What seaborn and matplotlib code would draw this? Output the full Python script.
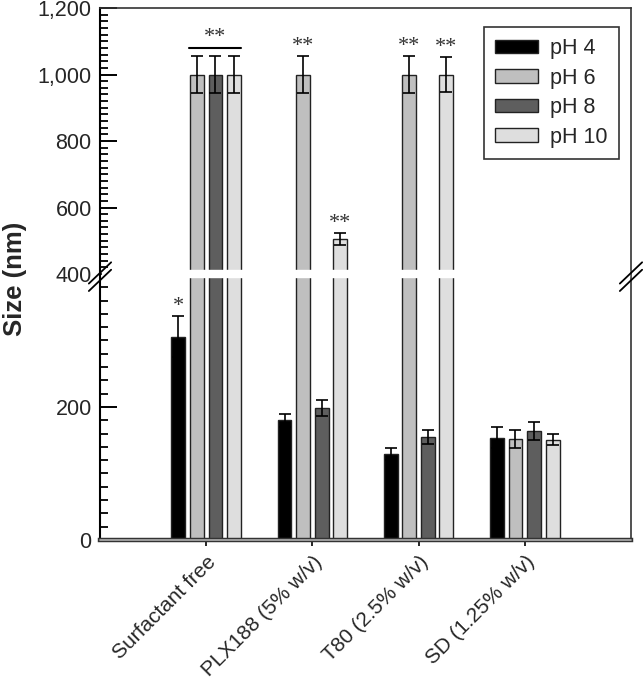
import numpy as np
import pandas as pd
import seaborn as sns
import matplotlib.pyplot as plt
from matplotlib.ticker import FixedLocator, MultipleLocator, FuncFormatter

groups = ["Surfactant free", "PLX188 (5% w/v)", "T80 (2.5% w/v)", "SD (1.25% w/v)"]
ph_levels = ["pH 4", "pH 6", "pH 8", "pH 10"]
# mean size (nm) per group, one list per pH
size_ph4 = [306, 180, 129, 154]
size_ph6 = [1000, 1000, 1000, 152]
size_ph8 = [1000, 199, 155, 164]
size_ph10 = [1000, 505, 1000, 151]
# error bars
err_ph4 = [31, 10, 9, 16]
err_ph6 = [56, 56, 56, 14]
err_ph8 = [56, 12, 10, 13]
err_ph10 = [56, 17, 52, 8]
# significance marks: (group, pH, label)
marks = [(0, "pH 4", "*"), (1, "pH 6", "**"), (1, "pH 10", "**"),
         (2, "pH 6", "**"), (2, "pH 10", "**")]

colors = ["#000000", "#bfbfbf", "#5e5e5e", "#dedede"]

sizes = [size_ph4, size_ph6, size_ph8, size_ph10]
errs = [err_ph4, err_ph6, err_ph8, err_ph10]
df = pd.DataFrame({
    "group": groups * 4,
    "pH": [p for p in ph_levels for _ in groups],
    "size": sum(sizes, []),
    "err": sum(errs, []),
})

sns.set_style("ticks")
plt.rcParams['font.family'] = ['Liberation Sans', 'DejaVu Sans']

fig = plt.figure(figsize=(6.43, 6.85), dpi=100)
ax = fig.add_axes([0.1555, 0.2117, 0.8258, 0.7766])

# broken axis: lower part 0-400 at double scale
BRK = 400
def fwd(y):
    y = np.asarray(y, dtype=float)
    return np.where(y < BRK, y, BRK + (y - BRK) / 2)
def inv(t):
    t = np.asarray(t, dtype=float)
    return np.where(t < BRK, t, BRK + (t - BRK) * 2)
ax.set_yscale("function", functions=(fwd, inv))

sns.barplot(data=df, x="group", y="size", hue="pH", hue_order=ph_levels,
            palette=colors, errorbar=None, width=0.7, gap=0.25,
            edgecolor="#222222", linewidth=1, ax=ax)

# error bars from the drawn bars
tops = {}
for ph, cont, e in zip(ph_levels, ax.containers, errs):
    xs = [b.get_x() + b.get_width() / 2 for b in cont]
    hs = [b.get_height() for b in cont]
    ax.errorbar(xs, hs, yerr=e, fmt="none", ecolor="black", elinewidth=1.2,
                capsize=4.5, capthick=1.2, zorder=5)
    for i, (x, h, ee) in enumerate(zip(xs, hs, e)):
        tops[(i, ph)] = (x, h + ee)

# white gap through the bars at the break
ax.axhspan(395, 412, xmin=0.004, xmax=0.996, color="white", zorder=4)

for gi, ph, lab in marks:
    x, top = tops[(gi, ph)]
    ax.annotate(lab, (x, top), xytext=(0, 0), textcoords="offset points",
                ha="center", va="bottom", fontsize=16, family="Liberation Serif",
                color="#333333")

# bracket over surfactant free pH 6-10
x1 = tops[(0, "pH 6")][0] - 0.07
x2 = tops[(0, "pH 10")][0] + 0.07
ax.plot([x1, x2], [1079, 1079], color="black", lw=1.5, zorder=5)
ax.text((x1 + x2) / 2, 1082, "**", ha="center", va="bottom", fontsize=16,
        family="Liberation Serif", color="#333333")

ax.set_xlim(-1, 4)
ax.set_ylim(0, 1200)
ax.yaxis.set_major_locator(FixedLocator([0, 200, 400, 600, 800, 1000, 1200]))
ax.yaxis.set_minor_locator(MultipleLocator(20))
ax.yaxis.set_major_formatter(FuncFormatter(lambda v, p: f"{v:,.0f}"))
ax.tick_params(axis="y", which="major", direction="in", length=12, width=1.4,
               labelsize=15.5, pad=6, color="black")
ax.tick_params(axis="y", which="minor", direction="in", length=6, width=1.3,
               color="black")
ax.tick_params(axis="x", direction="out", length=4, width=1.2, labelsize=15,
               pad=5, color="black")
plt.setp(ax.get_xticklabels(), rotation=45, ha="right", rotation_mode="anchor")

ax.set_xlabel("")
ax.set_ylabel("Size (nm)", fontsize=18.5, fontweight="bold")
ax.yaxis.set_label_coords(-0.137, 0.49)

for s in ["top", "right"]:
    ax.spines[s].set_color("#333333")
    ax.spines[s].set_linewidth(1.2)
ax.spines["left"].set_color("black")
ax.spines["left"].set_linewidth(1.5)
ax.spines["bottom"].set_color("#333333")
ax.spines["bottom"].set_linewidth(3.2)
ax.plot([0, 1], [0, 0], transform=ax.transAxes, color="#b0b0b0", lw=1.2,
        clip_on=False, zorder=6)

# break marks on both spines
yb = 0.495
for xc in [0.0, 1.0]:
    for off in [-0.007, 0.007]:
        ax.plot([xc - 0.021, xc + 0.021], [yb - 0.02 + off, yb + 0.02 + off],
                transform=ax.transAxes, color="black", lw=1.3, clip_on=False,
                zorder=7)

h, l = ax.get_legend_handles_labels()
ax.legend(h, l, loc="upper right", bbox_to_anchor=(0.977, 0.964), fontsize=15.5,
          frameon=True, fancybox=False, edgecolor="#333333", framealpha=1,
          handlelength=2.0, handleheight=0.6, labelspacing=0.4,
          borderpad=0.5, handletextpad=0.6, borderaxespad=0)
ax.get_legend().get_frame().set_linewidth(1.2)

fig.savefig("out.png", dpi=100)
